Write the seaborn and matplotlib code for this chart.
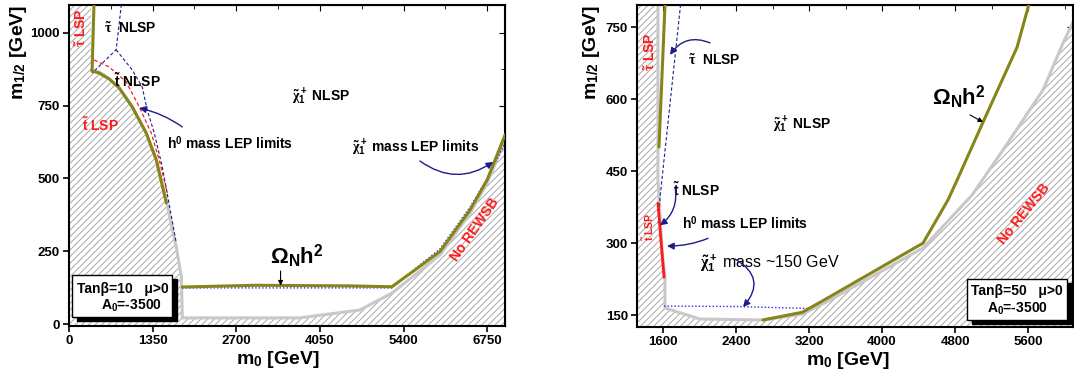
import matplotlib
matplotlib.use("Agg")
import matplotlib.pyplot as plt
from matplotlib.patches import Rectangle
from matplotlib.ticker import MultipleLocator
import seaborn as sns
import numpy as np

sns.set_style("ticks")
plt.rcParams['font.family'] = ['Liberation Sans', 'DejaVu Sans']
plt.rcParams['font.weight'] = 'bold'
plt.rcParams['text.color'] = 'black'
plt.rcParams['axes.labelcolor'] = 'black'
plt.rcParams['xtick.color'] = 'black'
plt.rcParams['ytick.color'] = 'black'
plt.rcParams['mathtext.fontset'] = 'custom'
plt.rcParams['mathtext.rm'] = 'Liberation Sans'
plt.rcParams['mathtext.bf'] = 'Liberation Sans:bold'
plt.rcParams['mathtext.it'] = 'Liberation Serif'
plt.rcParams['mathtext.sf'] = 'Liberation Sans'
plt.rcParams['hatch.linewidth'] = 0.7

# ---------------- data: tan(beta)=10 panel ----------------
excl10_x = [-100, 356, 356, 372, 485, 647, 809, 1019, 1246, 1408, 1570, 1650, 1731, 1813, 1829,
            3723, 4694, 5212, 5989, 6475, 6750, 7040, 7300, 7300, -100]
excl10_y = [1200, 1200, 869, 869, 866, 842, 811, 746, 656, 564, 426, 340, 265, 162, 21,
            21, 48, 106, 237, 381, 484, 632, 720, -100, -100]
omega10_a_x = [405, 372, 485, 647, 809, 1019, 1246, 1408, 1570]
omega10_a_y = [1120, 869, 862, 842, 811, 746, 656, 564, 416]
omega10_b_x = [1829, 3000, 4500, 5212, 5600, 5989, 6475, 6750, 7040]
omega10_b_y = [127, 133, 131, 128, 188, 249, 392, 495, 650]
stopLSP10_x = [405, 647, 922, 1133, 1327, 1456, 1586]
stopLSP10_y = [907, 883, 832, 746, 656, 564, 450]
higgs10_a_x = [857, 760, 372]
higgs10_a_y = [1120, 942, 862]
higgs10_b_x = [760, 1019, 1181, 1262, 1376, 1505, 1600, 1731]
higgs10_b_y = [942, 873, 814, 735, 656, 540, 430, 278]
chargino10_x = [1829, 3000, 4500, 5212, 5600, 5989, 6475, 6750, 7040]
chargino10_y = [124, 124, 124, 124, 192, 258, 402, 500, 622]

# ---------------- data: tan(beta)=50 panel ----------------
excl50_x = [1200, 1545, 1545, 1589, 1622, 1622, 2005, 2696, 3127, 3397, 4449, 4986, 5326,
            5764, 5984, 6093, 6200, 6200, 1200]
excl50_y = [850, 850, 431, 285, 229, 165, 142, 140, 152, 178, 290, 400, 494,
            619, 717, 760, 790, 100, 100]
omega50_a_x = [1625, 1556]
omega50_a_y = [810, 500]
omega50_b_x = [2696, 3126, 3397, 4449, 4723, 4822, 5107, 5480, 5622, 5700]
omega50_b_y = [140, 156, 185, 300, 390, 431, 552, 708, 806, 850]
stopLSP50_x = [1545, 1611]
stopLSP50_y = [383, 229]
higgs50_x = [1800, 1570, 1548]
higgs50_y = [810, 400, 340]
chargino50_x = [1611, 2400, 3200]
chargino50_y = [169, 168, 164]

x_ticks10 = [0, 1350, 2700, 4050, 5400, 6750]
y_ticks10 = [0, 250, 500, 750, 1000]
x_ticks50 = [1600, 2400, 3200, 4000, 4800, 5600]
y_ticks50 = [150, 300, 450, 600, 750]

OLIVE = '#85851a'
GRAY = '#c8c8c8'
NAVY = '#1c1c8a'
BLUE = '#2a2ae0'
RED = '#ff1a1a'

fig = plt.figure(figsize=(10.74, 3.80), dpi=100)
ax1 = fig.add_axes([0.0643, 0.142, 0.406, 0.845])
ax2 = fig.add_axes([0.5931, 0.139, 0.406, 0.848])


def line(ax, x, y, **kw):
    sns.lineplot(x=x, y=y, ax=ax, sort=False, estimator=None, **kw)


def style_axes(ax, xlim, ylim, xt, yt, xminor, yminor):
    ax.set_xlim(*xlim)
    ax.set_ylim(*ylim)
    ax.set_xticks(xt)
    ax.set_yticks(yt)
    ax.xaxis.set_minor_locator(MultipleLocator(xminor))
    ax.yaxis.set_minor_locator(MultipleLocator(yminor))
    ax.tick_params(which='major', direction='inout', length=9, width=1.2,
                   labelsize=9.5, pad=2, colors='black')
    ax.tick_params(which='minor', direction='in', length=3, width=1, colors='black')
    for lab in ax.get_xticklabels() + ax.get_yticklabels():
        lab.set_fontweight('bold')
    for s in ax.spines.values():
        s.set_linewidth(1.5)
        s.set_color('black')
    top = ax.secondary_xaxis('top')
    top.set_xticks(xt)
    top.xaxis.set_minor_locator(MultipleLocator(xminor))
    top.tick_params(which='major', direction='in', length=4, labeltop=False)
    top.tick_params(which='minor', direction='in', length=3)
    right = ax.secondary_yaxis('right')
    right.set_yticks(yt)
    right.yaxis.set_minor_locator(MultipleLocator(yminor))
    right.tick_params(which='major', direction='in', length=4, labelright=False)
    right.tick_params(which='minor', direction='in', length=3)
    ax.set_xlabel(r"m$_{\mathbf{0}}$ [GeV]", fontsize=14, fontweight='bold', color='black')
    ax.set_ylabel(r"m$_{\mathbf{1/2}}$ [GeV]", fontsize=14, fontweight='bold', color='black')


def info_box(ax, x0, y0, w, h, line1, line2, c1, c2):
    ax.add_patch(Rectangle((x0 + 0.0115, y0 - 0.0125), w, h, transform=ax.transAxes,
                           facecolor='black', edgecolor='black', zorder=6))
    ax.add_patch(Rectangle((x0, y0), w, h, transform=ax.transAxes,
                           facecolor='white', edgecolor='black', linewidth=1.0, zorder=7))
    ax.text(c1[0], c1[1], line1, transform=ax.transAxes, ha='center', va='center',
            fontsize=10, fontweight='bold', zorder=8)
    ax.text(c2[0], c2[1], line2, transform=ax.transAxes, ha='center', va='center',
            fontsize=10, fontweight='bold', zorder=8)


# ================= left panel =================
ax = ax1
ax.fill(excl10_x, excl10_y, facecolor='white', hatch='/////', edgecolor='#a8a8a8',
        linewidth=0, zorder=1)
line(ax, excl10_x[2:22], excl10_y[2:22], color=GRAY, linewidth=2.2, zorder=2)
line(ax, higgs10_a_x, higgs10_a_y, color=NAVY, linewidth=0.8, linestyle=(0, (3, 2)), zorder=3)
line(ax, higgs10_b_x, higgs10_b_y, color=NAVY, linewidth=0.8, linestyle=(0, (3, 2)), zorder=3)
line(ax, stopLSP10_x, stopLSP10_y, color=RED, linewidth=0.9, linestyle=(0, (3, 2)), zorder=3)
line(ax, chargino10_x, chargino10_y, color=BLUE, linewidth=1.0, linestyle=(0, (1, 1.5)), zorder=3)
line(ax, omega10_a_x, omega10_a_y, color=OLIVE, linewidth=2.2, zorder=4)
line(ax, omega10_b_x, omega10_b_y, color=OLIVE, linewidth=2.2, zorder=4)
style_axes(ax, (0, 7040), (-7, 1096), x_ticks10, y_ticks10, 675, 125)
ax.xaxis.set_label_coords(0.48, -0.072)
ax.yaxis.set_label_coords(-0.092, 0.853)

ax.text(194, 1017, r"$\tilde{\tau}$ LSP", color=RED, rotation=90, ha='center', va='center',
        fontsize=10, fontweight='bold', zorder=5)
ax.text(567, 1014, r"$\tilde{\tau}$  NLSP", ha='left', va='center', fontsize=10,
        fontweight='bold', zorder=5)
ax.text(728, 835, r"$\tilde{\mathbf{t}}$ NLSP", ha='left', va='center', fontsize=10,
        fontweight='bold', zorder=5)
ax.text(210, 684, r"$\tilde{\mathbf{t}}$ LSP", color=RED, ha='left', va='center', fontsize=10,
        fontweight='bold', zorder=5)
ax.text(1586, 622, r"h$^{\mathbf{0}}$ mass LEP limits", ha='left', va='center', fontsize=10,
        fontweight='bold', zorder=5)
ax.text(3593, 780, r"$\tilde{\chi}_1^+$ NLSP", ha='left', va='center', fontsize=10,
        fontweight='bold', zorder=5)
ax.text(4565, 605, r"$\tilde{\chi}_1^+$ mass LEP limits", ha='left', va='center', fontsize=10,
        fontweight='bold', zorder=5)
ax.text(3237, 232, r"$\Omega_{\mathbf{N}}$h$^{\mathbf{2}}$", ha='left', va='center',
        fontsize=16, fontweight='bold', zorder=5)
ax.text(6555, 323, "No REWSB", color=RED, rotation=55, ha='center', va='center',
        fontsize=10, fontweight='bold', zorder=5)
ax.annotate("", xy=(1133, 742), xytext=(1829, 677),
            arrowprops=dict(arrowstyle='-|>', color=NAVY, lw=1.0, mutation_scale=10,
                            connectionstyle='arc3,rad=0.1', shrinkA=0, shrinkB=0), zorder=5)
ax.annotate("", xy=(6847, 557), xytext=(5665, 560),
            arrowprops=dict(arrowstyle='-|>', color=NAVY, lw=1.0, mutation_scale=10,
                            connectionstyle='arc3,rad=0.35', shrinkA=0, shrinkB=0), zorder=5)
ax.annotate("", xy=(3415, 132), xytext=(3415, 182),
            arrowprops=dict(arrowstyle='-|>', color='black', lw=0.8, mutation_scale=7,
                            shrinkA=0, shrinkB=0), zorder=5)
info_box(ax, 0.007, 0.028, 0.230, 0.131, "Tanβ=10   μ>0", r"A$_{\mathbf{0}}$=-3500",
         (0.124, 0.115), (0.142, 0.063))

# ================= right panel =================
ax = ax2
ax.fill(excl50_x, excl50_y, facecolor='white', hatch='/////', edgecolor='#a8a8a8',
        linewidth=0, zorder=1)
line(ax, excl50_x[1:17], excl50_y[1:17], color=GRAY, linewidth=2.2, zorder=2)
line(ax, higgs50_x, higgs50_y, color=NAVY, linewidth=0.8, linestyle=(0, (3, 2)), zorder=3)
line(ax, chargino50_x, chargino50_y, color=BLUE, linewidth=1.0, linestyle=(0, (1, 1.5)), zorder=3)
line(ax, stopLSP50_x, stopLSP50_y, color=RED, linewidth=2.0, zorder=4)
line(ax, omega50_a_x, omega50_a_y, color=OLIVE, linewidth=2.2, zorder=4)
line(ax, omega50_b_x, omega50_b_y, color=OLIVE, linewidth=2.2, zorder=4)
style_axes(ax, (1315, 6093), (125, 796), x_ticks50, y_ticks50, 400, 75)
ax.xaxis.set_label_coords(0.484, -0.072)
ax.yaxis.set_label_coords(-0.080, 0.854)

ax.text(1457, 698, r"$\tilde{\tau}$ LSP", color=RED, rotation=90, ha='center', va='center',
        fontsize=10, fontweight='bold', zorder=5)
ax.text(1874, 681, r"$\tilde{\tau}$  NLSP", ha='left', va='center', fontsize=10,
        fontweight='bold', zorder=5)
ax.text(2805, 546, r"$\tilde{\chi}_1^+$ NLSP", ha='left', va='center', fontsize=10,
        fontweight='bold', zorder=5)
ax.text(4548, 604, r"$\Omega_{\mathbf{N}}$h$^{\mathbf{2}}$", ha='left', va='center',
        fontsize=16, fontweight='bold', zorder=5)
ax.text(1710, 410, r"$\tilde{\mathbf{t}}$ NLSP", ha='left', va='center', fontsize=10,
        fontweight='bold', zorder=5)
ax.text(1808, 342, r"h$^{\mathbf{0}}$ mass LEP limits", ha='left', va='center', fontsize=10,
        fontweight='bold', zorder=5)
ax.text(1436, 333, r"$\tilde{\mathbf{t}}$ LSP", color=RED, rotation=90, ha='center',
        va='center', fontsize=7.5, fontweight='bold', zorder=5)
ax.text(2005, 258, r"$\tilde{\chi}_1^+$ mass ~150 GeV", ha='left', va='center', fontsize=11.5,
        fontweight='normal', zorder=5)
ax.text(5556, 362, "No REWSB", color=RED, rotation=51, ha='center', va='center',
        fontsize=10, fontweight='bold', zorder=5)
ax.annotate("", xy=(1677, 692), xytext=(2115, 717),
            arrowprops=dict(arrowstyle='-|>', color=NAVY, lw=1.0, mutation_scale=10,
                            connectionstyle='arc3,rad=0.4', shrinkA=0, shrinkB=0), zorder=5)
ax.annotate("", xy=(1567, 337), xytext=(1732, 417),
            arrowprops=dict(arrowstyle='-|>', color=NAVY, lw=1.0, mutation_scale=10,
                            connectionstyle='arc3,rad=-0.3', shrinkA=0, shrinkB=0), zorder=5)
ax.annotate("", xy=(1644, 294), xytext=(2094, 310),
            arrowprops=dict(arrowstyle='-|>', color=NAVY, lw=1.0, mutation_scale=10,
                            connectionstyle='arc3,rad=-0.1', shrinkA=0, shrinkB=0), zorder=5)
ax.annotate("", xy=(2477, 167), xytext=(2389, 267),
            arrowprops=dict(arrowstyle='-|>', color=NAVY, lw=1.0, mutation_scale=10,
                            connectionstyle='arc3,rad=-0.6', shrinkA=0, shrinkB=0), zorder=5)
ax.annotate("", xy=(5107, 552), xytext=(4964, 567),
            arrowprops=dict(arrowstyle='-|>', color='black', lw=0.8, mutation_scale=7,
                            shrinkA=0, shrinkB=0), zorder=5)
info_box(ax, 0.757, 0.022, 0.229, 0.127, "Tanβ=50   μ>0", r"A$_{\mathbf{0}}$=-3500",
         (0.872, 0.112), (0.872, 0.057))

fig.savefig("out.png", dpi=100)
